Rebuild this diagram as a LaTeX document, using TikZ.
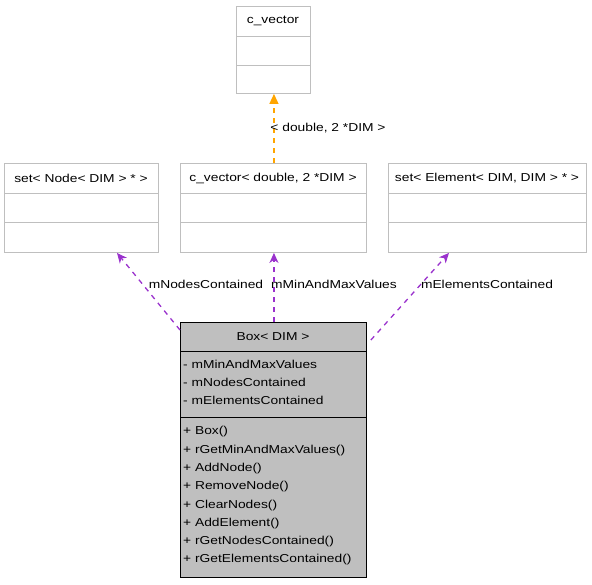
\documentclass[tikz,border=0pt]{standalone}
\usepackage{fontspec}
\setmainfont{Liberation Sans}[FakeStretch=1.2]
\usetikzlibrary{arrows.meta,calc}
\definecolor{clsgray}{HTML}{BFBFBF}
\definecolor{boxfill}{HTML}{BFBFBF}
\definecolor{relpurple}{HTML}{9A32CD}
\definecolor{relorange}{HTML}{FFA500}
\begin{document}
\begin{tikzpicture}[x=1pt,y=-1pt,
  txt/.style={font=\fontsize{11.5}{13}\selectfont, inner sep=0pt},
  cls/.style={draw=clsgray, line width=0.9pt, anchor=north west, inner sep=0pt},
  mainc/.style={draw=black, fill=boxfill, line width=0.9pt, anchor=north west, inner sep=0pt},
  sepg/.style={draw=clsgray, line width=0.9pt},
  sepb/.style={draw=black, line width=0.9pt},
  rel/.style={draw=relpurple, line width=1.3pt, dash pattern=on 5pt off 5pt, -{Stealth[length=10pt,width=9pt,inset=3pt]}},
  inh/.style={draw=relorange, line width=1.3pt, dash pattern=on 5pt off 5pt, -{Triangle[length=10pt,width=9pt]}}
]
\useasboundingbox (0,0) rectangle (592,584);
% c_vector
\node[cls, minimum width=74pt, minimum height=87pt] (cvec) at (236,6) {};
\draw[sepg] (236,36) -- (310,36);
\draw[sepg] (236,65) -- (310,65);
\node[txt] (cvect) at (273,21) {c\_vector};
% set< Node >
\node[cls, minimum width=154pt, minimum height=89pt] (setnode) at (4,163) {};
\draw[sepg] (4,193) -- (158,193);
\draw[sepg] (4,222) -- (158,222);
\node[txt] (setnodet) at (81,178) {set< Node< DIM > * >};
% c_vector< double >
\node[cls, minimum width=186pt, minimum height=89pt] (cvd) at (180,163) {};
\draw[sepg] (180,193) -- (366,193);
\draw[sepg] (180,222) -- (366,222);
\node[txt] (cvdt) at (273,178) {c\_vector< double, 2 *DIM >};
% set< Element >
\node[cls, minimum width=198pt, minimum height=89pt] (setel) at (388,163) {};
\draw[sepg] (388,193) -- (586,193);
\draw[sepg] (388,222) -- (586,222);
\node[txt] (setelt) at (487,178) {set< Element< DIM, DIM > * >};
% Box< DIM >
\node[mainc, minimum width=186pt, minimum height=255pt] (box) at (180,322) {};
\draw[sepb] (180,351) -- (366,351);
\draw[sepb] (180,417) -- (366,417);
\node[txt] (boxt) at (273,336.5) {Box< DIM >};
\node[txt, anchor=west] (a1) at (183,364) {- mMinAndMaxValues};
\node[txt, anchor=west] (a2) at (183,382) {- mNodesContained};
\node[txt, anchor=west] (a3) at (183,400) {- mElementsContained};
\node[txt, anchor=west] (m1) at (183,432) {+ Box()};
\node[txt, anchor=west] (m2) at (183,450.3) {+ rGetMinAndMaxValues()};
\node[txt, anchor=west] (m3) at (183,468.6) {+ AddNode()};
\node[txt, anchor=west] (m4) at (183,486.9) {+ RemoveNode()};
\node[txt, anchor=west] (m5) at (183,505.1) {+ ClearNodes()};
\node[txt, anchor=west] (m6) at (183,523.4) {+ AddElement()};
\node[txt, anchor=west] (m7) at (183,541.7) {+ rGetNodesContained()};
\node[txt, anchor=west] (m8) at (183,560) {+ rGetElementsContained()};
% connectors
\draw[inh] ([xshift=0.5pt]cvd.north) -- ([xshift=0.5pt]cvec.south);
\node[txt] (l0) at (328,128) {< double, 2 *DIM >};
\draw[rel] ($(box.north west)+(0,8)$) -- ($(setnode.south west)+(113,0)$);
\node[txt] (l1) at (206,284) {mNodesContained};
\draw[rel] ([xshift=0.5pt]box.north) -- ([xshift=0.5pt]cvd.south);
\node[txt] (l2) at (334,284) {mMinAndMaxValues};
\draw[rel] ($(box.north east)+(4,18)$) -- ($(setel.south west)+(61,0)$);
\node[txt] (l3) at (487,284) {mElementsContained};
\end{tikzpicture}
\end{document}
